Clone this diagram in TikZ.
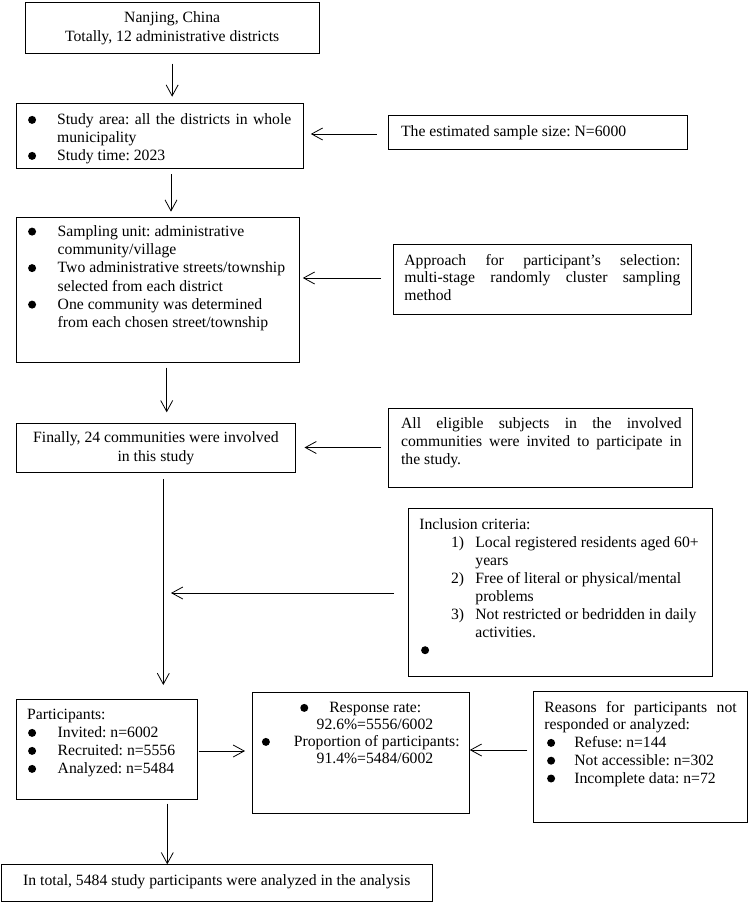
\documentclass[tikz,border=0pt]{standalone}
\usepackage{fontspec}
\setmainfont{Liberation Serif}
\usetikzlibrary{arrows.meta}
\newcommand\bul{\tikz[baseline=0pt]\fill (0pt,4.8pt) circle[radius=4pt];}
% width, height, baselineskip, setup, first-baseline, lines
\newcommand\bx[6]{\parbox[c][#2pt][t]{#1pt}{\fontsize{15.7}{#3pt}\selectfont\frenchspacing\parindent=0pt#4\rule{0pt}{#5pt}#6}}
\begin{document}
\begin{tikzpicture}[x=1pt,y=-1pt,
  box/.style={draw, line width=0.8pt, inner sep=0pt, anchor=north west, minimum size=0pt},
  arr/.style={draw, line width=0.8pt, -{Straight Barb[length=11pt,width=12pt]}}]
\useasboundingbox (0,0) rectangle (748,902);

\node[box] (b1) at (24.5,1.5) {\bx{294.5}{51.8}{18.4}{\centering}{20.8}{Nanjing, China\\Totally, 12 administrative districts}};

\node[box] (b2) at (15.5,102.5) {\bx{287.2}{65.2}{18}{\raggedright\leftskip=12.2pt}{21.8}{\makebox[29pt][l]{\bul}\makebox[234.3pt][s]{Study area: all the districts in whole}\\\hspace*{29pt}municipality\\\makebox[29pt][l]{\bul}Study time: 2023}};

\node[box] (b11) at (388.3,115) {\bx{299}{34}{18}{\raggedright\leftskip=12.4pt}{21}{The estimated sample size: N=6000}};

\node[box] (b3) at (15.7,216.7) {\bx{283.3}{145.6}{18.25}{\raggedright\leftskip=12pt}{19.3}{\makebox[29.6pt][l]{\bul}Sampling unit: administrative\\\hspace*{29.6pt}community/village\\\makebox[29.6pt][l]{\bul}Two administrative streets/township\\\hspace*{29.6pt}selected from each district\\\makebox[29.6pt][l]{\bul}One community was determined\\\hspace*{29.6pt}from each chosen street/township}};

\node[box] (b10) at (393,244) {\bx{298.3}{70.3}{17.5}{\raggedright\leftskip=11pt}{21}{\makebox[276pt][s]{Approach for participant’s selection:}\\\makebox[276pt][s]{multi-stage randomly cluster sampling}\\method}};

\node[box] (b4) at (16,422.7) {\bx{279}{49}{18.4}{\centering}{19.6}{Finally, 24 communities were involved\\in this study}};

\node[box] (b9) at (388.3,407.7) {\bx{304}{79.6}{17.8}{\raggedright\leftskip=12.4pt}{20.6}{\makebox[280.6pt][s]{All eligible subjects in the involved}\\\makebox[280.6pt][s]{communities were invited to participate in}\\the study.}};

\node[box] (b8) at (408,508.3) {\bx{303.7}{167.7}{17.9}{\raggedright\leftskip=11pt}{21}{Inclusion criteria:\\\hspace*{31.7pt}\makebox[24.3pt][l]{1)}Local registered residents aged 60+\\\hspace*{56pt}years\\\hspace*{31.7pt}\makebox[24.3pt][l]{2)}Free of literal or physical/mental\\\hspace*{56pt}problems\\\hspace*{31.7pt}\makebox[24.3pt][l]{3)}Not restricted or bedridden in daily\\\hspace*{56pt}activities.\\\hspace*{1.7pt}\bul}};

\node[box] (b5) at (15.7,699.3) {\bx{181}{100}{18}{\raggedright\leftskip=11pt}{20}{Participants:\\\makebox[30.6pt][l]{\hspace{1pt}\bul}Invited: n=6002\\\makebox[30.6pt][l]{\hspace{1pt}\bul}Recruited: n=5556\\\makebox[30.6pt][l]{\hspace{1pt}\bul}Analyzed: n=5484}};

\node[box] (b6) at (251.7,692.3) {\bx{217.3}{121}{17}{\centering}{20}{\makebox[29pt][l]{\bul}Response rate:\\\hspace*{28.4pt}92.6\%=5556/6002\\\makebox[32pt][l]{\bul}Proportion of participants:\\\hspace*{28.4pt}91.4\%=5484/6002}};

\node[box] (b7) at (533,691) {\bx{214.3}{130.7}{17.8}{\raggedright\leftskip=11pt}{20.7}{\makebox[192.3pt][s]{Reasons for participants not}\\responded or analyzed:\\\makebox[30pt][l]{\hspace{2.7pt}\bul}Refuse: n=144\\\makebox[30pt][l]{\hspace{2.7pt}\bul}Not accessible: n=302\\\makebox[30pt][l]{\hspace{2.7pt}\bul}Incomplete data: n=72}};

\node[box] (b12) at (0.5,864.3) {\bx{431.8}{36.5}{18}{\centering}{20.7}{In total, 5484 study participants were analyzed in the analysis}};

\coordinate (jI) at (171,593);

\draw[arr, shorten <=9.4pt, shorten >=5.8pt] (b1.south) -- (b1.south |- b2.north);
\draw[arr, shorten <=5.5pt, shorten >=5pt] (171,0 |- b2.south) -- (171,0 |- b3.north);
\draw[arr, shorten <=4.4pt, shorten >=10.4pt] (166.7,0 |- b3.south) -- (166.7,0 |- b4.north);
\draw[arr, shorten <=6.3pt, shorten >=14.3pt] (163.3,0 |- b4.south) -- (163.3,0 |- b5.north);
\draw[arr, shorten <=14pt] (b8.west |- jI) -- (jI);
\draw[arr, shorten <=1pt, shorten >=6.7pt] (b5.east |- 0,751) -- (b6.west |- 0,751);
\draw[arr, shorten <=5.7pt] (b7.west |- 0,750) -- (b6.east |- 0,750);
\draw[arr, shorten <=3.4pt] (167.3,0 |- b5.south) -- (167.3,0 |- b12.north);
\draw[arr, shorten <=11.5pt, shorten >=7.3pt] (b11.west |- 0,134) -- (b2.east |- 0,134);
\draw[arr, shorten <=12pt, shorten >=3pt] (b10.west |- 0,278) -- (b3.east |- 0,278);
\draw[arr, shorten <=7.3pt, shorten >=8.7pt] (b9.west |- 0,447.5) -- (b4.east |- 0,447.5);
\end{tikzpicture}
\end{document}
